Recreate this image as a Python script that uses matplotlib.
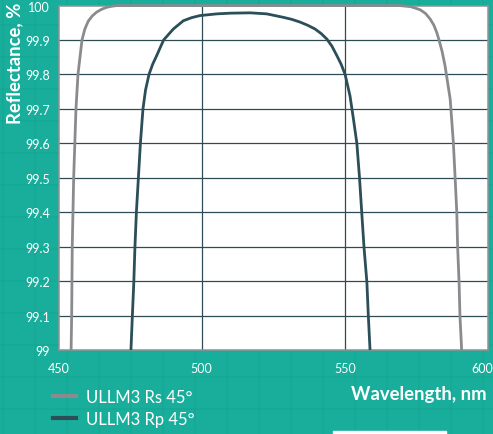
import matplotlib
matplotlib.use("Agg")
import matplotlib.pyplot as plt
from matplotlib.lines import Line2D
from matplotlib.patches import Rectangle
from matplotlib.transforms import offset_copy

plt.rcParams['font.family'] = ['Lato', 'DejaVu Sans']

# Reflectance curves (wavelength in nm, reflectance in %)
rs_wl = [454.4, 454.6, 454.8, 455.3, 456.1, 456.8, 458.2, 459.2, 460.4, 461.8, 463.3,
         465.0, 466.8, 468.5, 470.3,
         569.3, 573.0, 576.3, 578.2, 579.8, 581.1, 582.1, 582.9, 584.0, 585.0, 586.8, 587.9,
         588.5, 589.1, 589.4, 589.9, 590.2, 590.8]
rs_val = [99.0, 99.1, 99.3, 99.5, 99.7, 99.8, 99.9, 99.932, 99.955, 99.970, 99.981,
          99.989, 99.995, 99.998, 100.0,
          100.0, 99.997, 99.988, 99.977, 99.961, 99.943, 99.922, 99.9, 99.866, 99.825, 99.728, 99.602,
          99.503, 99.399, 99.298, 99.196, 99.1, 99.0]

rp_wl = [475.3, 475.8, 476.3, 476.7, 477.2, 477.9, 478.6, 479.5, 480.4, 481.6, 482.9,
         484.3, 486.7, 490.1, 493.6, 496.5, 499.4, 505.3, 510.0, 516.9, 522.7, 528.5,
         531.5, 534.4, 537.0, 539.6, 541.7, 543.7, 545.5, 547.2, 548.7, 550.1, 551.8, 553.0,
         554.2, 555.1, 555.9, 556.7, 557.7, 558.2, 558.8]
rp_val = [99.0, 99.1, 99.197, 99.3, 99.4, 99.5, 99.6, 99.7, 99.755, 99.8, 99.830,
          99.855, 99.9, 99.932, 99.956, 99.965, 99.971, 99.976, 99.978, 99.979, 99.976, 99.966,
          99.960, 99.952, 99.943, 99.932, 99.919, 99.903, 99.882, 99.855, 99.830, 99.8, 99.738, 99.671,
          99.6, 99.503, 99.4, 99.298, 99.197, 99.1, 99.0]

series_labels = ["ULLM3 Rs 45°", "ULLM3 Rp 45°"]
x_ticks = [450, 500, 550, 600]
y_ticks = [99, 99.1, 99.2, 99.3, 99.4, 99.5, 99.6, 99.7, 99.8, 99.9, 100]
y_tick_labels = ["99", "99.1", "99.2", "99.3", "99.4", "99.5", "99.6", "99.7", "99.8", "99.9", "100"]

BG = "#18ae9b"
PAPER = "#14a08e"
GRID = "#2f4b53"
RS_C = "#8b8b8f"
RP_C = "#2b4e58"
SPINE = "#8f9295"

W, H = 493, 435
fig = plt.figure(figsize=(W / 100, H / 100), dpi=100, facecolor=BG)

# faint graph-paper pattern on the background
for x in range(35 - 32, W, 32):
    fig.add_artist(Line2D([x / W, x / W], [0, 1], color=PAPER, lw=1.2, alpha=0.4,
                          transform=fig.transFigure, zorder=0))
for y in range(410 - 32 * 13, H, 32):
    fig.add_artist(Line2D([0, 1], [1 - y / H, 1 - y / H], color=PAPER, lw=1.2, alpha=0.4,
                          transform=fig.transFigure, zorder=0))

left, right, top, bottom = 58.5, 488, 6.6, 351
ax = fig.add_axes([left / W, 1 - bottom / H, (right - left) / W, (bottom - top) / H])
ax.set_facecolor("white")
ax.set_xlim(450, 600)
ax.set_ylim(99, 100)

ax.set_xticks(x_ticks)
ax.set_xticklabels([str(t) for t in x_ticks])
ax.set_yticks(y_ticks)
ax.set_yticklabels(y_tick_labels)
ax.tick_params(length=0, colors="white", labelsize=9)
ax.tick_params(axis="y", pad=6)
ax.tick_params(axis="x", pad=9)

# keep the last x label inside the figure edge
last = ax.get_xticklabels()[-1]
last.set_transform(offset_copy(last.get_transform(), fig=fig, x=-6, units="dots"))

for v in y_ticks[1:-1]:
    ax.axhline(v, color=GRID, lw=0.9, zorder=1)
for v in x_ticks[1:-1]:
    ax.axvline(v, color=GRID, lw=0.9, zorder=1)

for s in ax.spines.values():
    s.set_color(SPINE)
    s.set_linewidth(1.1)

ax.plot(rs_wl, rs_val, color=RS_C, lw=2.0, solid_joinstyle="round",
        solid_capstyle="butt", clip_on=False, zorder=3)
ax.plot(rp_wl, rp_val, color=RP_C, lw=2.0, solid_joinstyle="round",
        solid_capstyle="butt", clip_on=False, zorder=4)

fig.text(15 / W, 1 - 3 / H, "Reflectance, %", rotation=90, color="white",
         fontsize=13.3, fontweight="bold", ha="center", va="top")
fig.text(487 / W, 1 - 395 / H, "Wavelength, nm", color="white",
         fontsize=13.3, fontweight="bold", ha="right", va="center")

handles = [Line2D([], [], color=RS_C, lw=3), Line2D([], [], color=RP_C, lw=3)]
fig.legend(handles, series_labels, loc="upper left",
           bbox_to_anchor=(53 / W, 1 - 390 / H), frameon=False,
           handlelength=1.4, handletextpad=0.55, labelspacing=0.35,
           fontsize=12, labelcolor="white", borderaxespad=0, borderpad=0)

fig.add_artist(Rectangle((333 / W, 0), (446 - 333) / W, 3 / H, color="white",
                         transform=fig.transFigure, zorder=2))

fig.savefig("out.png", dpi=100, facecolor=BG)
